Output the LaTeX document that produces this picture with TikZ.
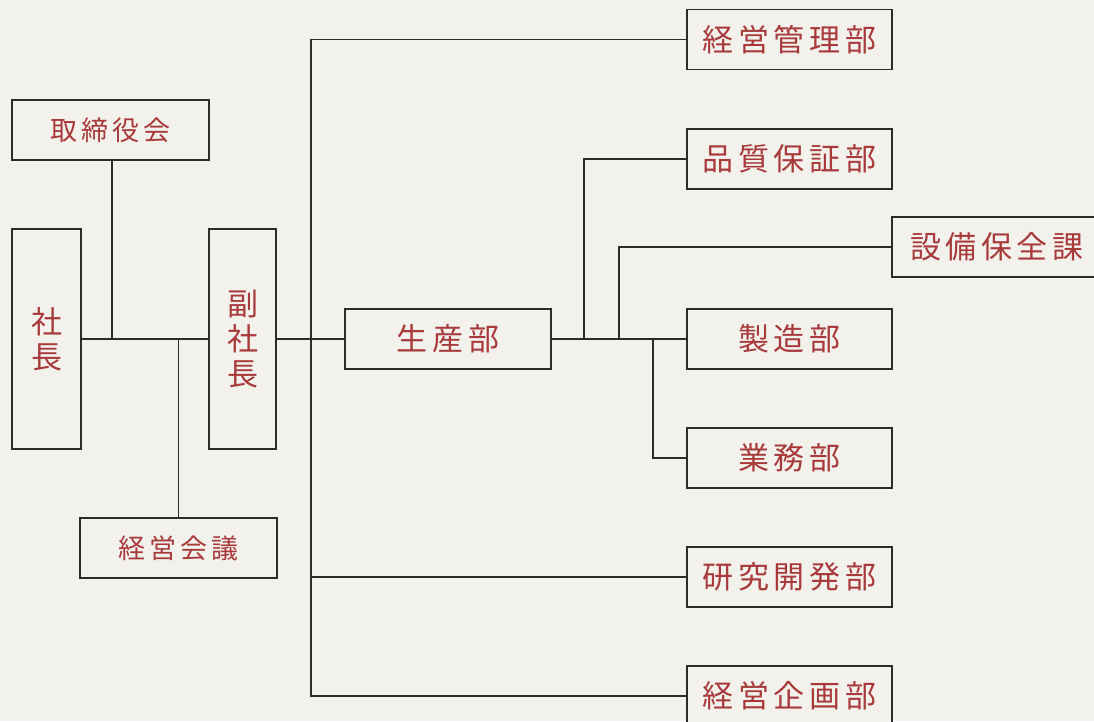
\documentclass[tikz,border=0pt]{standalone}
\usepackage{fontspec}
\setmainfont{Noto Sans CJK JP}
\newfontfamily\jpR[LetterSpace=15]{Noto Sans CJK JP}
\newfontfamily\jpL[LetterSpace=16]{Noto Sans CJK JP}
\newfontfamily\jpV{Noto Sans CJK JP}
\definecolor{ink}{HTML}{A83A3C}
\definecolor{paper}{HTML}{F2F1EC}
\definecolor{rule}{HTML}{2B2B2B}
\tikzset{
  orgbox/.style={draw=rule, line width=1.8pt, fill=paper, inner sep=0pt, text=ink, anchor=center},
  rbox/.style={orgbox, minimum width=205pt, minimum height=60pt, font=\jpR\fontsize{31}{36}\selectfont},
  lbox/.style={orgbox, minimum width=197pt, minimum height=60pt, font=\jpL\fontsize{27}{32}\selectfont},
  vbox/.style={orgbox, minimum height=220pt, font=\jpV\fontsize{31}{35}\selectfont, align=center},
  conn/.style={draw=rule, line width=1.8pt}
}
\begin{document}
\begin{tikzpicture}[x=1pt,y=-1pt]
\fill[paper] (0,0) rectangle (1094,721);
\useasboundingbox (0,0) rectangle (1094,721);
\clip (0,0) rectangle (1094,721);
% left part
\node[lbox] (tori) at (110.5,130) {取締役会};
\node[vbox, minimum width=69pt] (shacho) at (46.5,339) {社\\長};
\node[vbox, minimum width=67pt] (fuku) at (242.5,339) {副\\社\\長};
\node[lbox] (kaigi) at (178.5,548) {経営会議};
\node[orgbox, minimum width=206pt, minimum height=60pt, font=\jpR\fontsize{31}{36}\selectfont] (seisan) at (448,339) {生産部};
% right column
\node[rbox] (kanri) at (789.5,39.5) {経営管理部};
\node[rbox] (hinshitsu) at (789.5,159) {品質保証部};
\node[orgbox, minimum width=208pt, minimum height=60pt, font=\jpR\fontsize{31}{36}\selectfont, text width=204pt, align=left] (setsubi) at (996,247) {\hspace*{16pt}設備保全課};
\node[rbox] (seizou) at (789.5,339) {製造部};
\node[rbox] (gyomu) at (789.5,458) {業務部};
\node[rbox] (kenkyu) at (789.5,577) {研究開発部};
\node[rbox] (kikaku) at (789.5,696) {経営企画部};
% bus coordinates
\coordinate (busA) at (311,0);
\coordinate (busB) at (584,0);
\coordinate (busC) at (619,0);
\coordinate (busD) at (653,0);
\coordinate (torix) at (112,0);
% connectors
\draw[conn] (shacho.east) -- (fuku.west);
\draw[conn] (torix |- tori.south) -- (torix |- shacho.east);
\draw[conn] (kaigi.north) -- (kaigi.north |- shacho.east);
\draw[conn] (fuku.east) -- (seisan.west);
\draw[conn] (kanri.west) -- (kanri.west -| busA) -- (kikaku.west -| busA) -- (kikaku.west);
\draw[conn] (kenkyu.west) -- (kenkyu.west -| busA);
\draw[conn] (seisan.east) -- (seizou.west);
\draw[conn] (hinshitsu.west) -- (hinshitsu.west -| busB) -- (busB |- seizou.west);
\draw[conn] (setsubi.west) -- (setsubi.west -| busC) -- (busC |- seizou.west);
\draw[conn] (gyomu.west) -- (gyomu.west -| busD) -- (busD |- seizou.west);
\end{tikzpicture}
\end{document}
